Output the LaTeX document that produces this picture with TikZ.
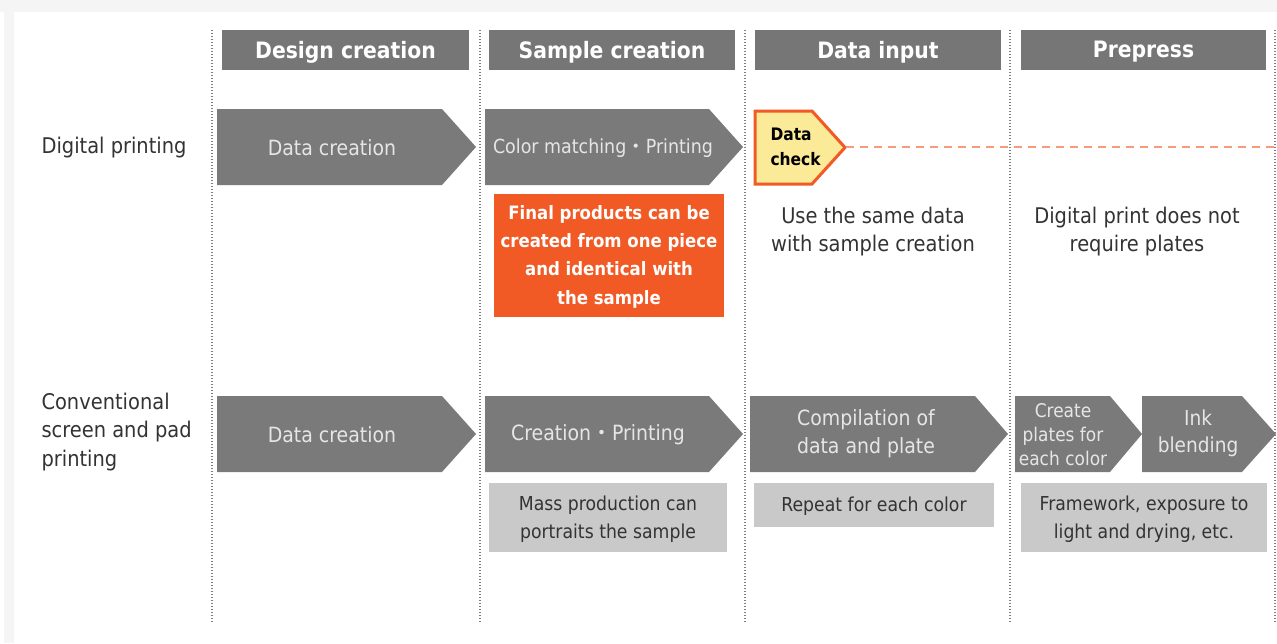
\documentclass[tikz,border=0pt]{standalone}
\usepackage{fontspec}
\setmainfont{DejaVu Sans}[FakeStretch=0.9]
\newfontfamily\cjk{Noto Sans CJK JP}
\definecolor{edgegray}{HTML}{F5F5F5}
\definecolor{stepgray}{HTML}{7A7A7A}
\definecolor{headgray}{HTML}{767676}
\definecolor{notegray}{HTML}{C9C9C9}
\definecolor{steptext}{HTML}{E6E6E6}
\definecolor{inktext}{HTML}{333333}
\definecolor{hotorange}{HTML}{F15A24}
\definecolor{checkfill}{HTML}{FBEA98}
\definecolor{dashorange}{HTML}{F49B7C}
\definecolor{divgray}{HTML}{7E7E7E}
% chevron: x-left, x where the point starts, x of the tip, y-top, y-bottom, style
\newcommand\chevron[6]{%
  \path[#6] (#1,#4) -- (#2,#4) -- (#3,{(#4+#5)/2}) -- (#2,#5) -- (#1,#5) -- cycle;}
\tikzset{
  divider/.style={draw=divgray, line width=1.3pt, dash pattern=on 1.3pt off 1.7pt},
  headbox/.style={fill=headgray},
  headtext/.style={text=white, font=\fontsize{22.6}{24}\bfseries\selectfont},
  stepshape/.style={fill=stepgray},
  steptxt/.style={text=steptext, align=center, font=\fontsize{21}{28}\selectfont},
  rowlabel/.style={text=inktext, align=left, anchor=west, font=\fontsize{21.6}{28.5}\selectfont},
  notetxt/.style={text=inktext, align=center, font=\fontsize{21.6}{28}\selectfont},
  greynote/.style={fill=notegray},
  greytxt/.style={text=inktext, align=center, font=\fontsize{19.2}{28}\selectfont},
  hotnote/.style={fill=hotorange},
  hottxt/.style={text=white, align=center, font=\fontsize{18.4}{28.3}\bfseries\selectfont},
  checkshape/.style={fill=checkfill, draw=hotorange, line width=3pt, line join=miter},
  checktxt/.style={text=black, align=left, anchor=west, font=\fontsize{17.2}{25}\bfseries\selectfont},
  skipline/.style={draw=dashorange, line width=1.8pt, dash pattern=on 8pt off 6pt},
}
\begin{document}
\begin{tikzpicture}[x=1pt,y=-1pt]
\useasboundingbox (0,0) rectangle (1277,643);
\fill[white] (0,0) rectangle (1277,643);
\fill[edgegray] (0,0) rectangle (1277,12);
\fill[edgegray] (4,12) rectangle (14,643);

% column dividers
\foreach \x in {212,480,745,1010,1275}
  \draw[divider] (\x,30) -- (\x,622);

% column headers
\fill[headbox] (222,30) rectangle (469,70);
\fill[headbox] (489,30) rectangle (735,70);
\fill[headbox] (755,30) rectangle (1001,70);
\fill[headbox] (1021,30) rectangle (1266,70);
\node[headtext] (hdesign) at (345.5,52) {Design creation};
\node[headtext] (hsample) at (612,52) {Sample creation};
\node[headtext] (hdata) at (878,52) {Data input};
\node[headtext] (hprepress) at (1143.5,52) {Prepress};

% row labels
\node[rowlabel] (digital) at (38,148) {Digital printing};
\node[rowlabel] (conventional) at (38,432) {Conventional\\screen and pad\\printing};

% digital printing row
\chevron{217}{442}{476}{109}{185}{stepshape}
\node[steptxt] (ddesign) at (332,148) {Data creation};
\chevron{485}{709}{743}{109}{185}{stepshape}
\node[steptxt, font=\fontsize{19.4}{28}\selectfont] (dsample) at (603,148)
  {Color matching{\cjk ・}Printing};
\chevron{755}{812}{845}{111}{184}{checkshape}
\node[checktxt] (datacheck) at (767,147) {Data\\check};
\coordinate (checktip) at (846,147);
\coordinate (skipend) at (1277,147);
\draw[skipline] (checktip) -- (skipend);

\fill[hotnote] (494,194) rectangle (724,317);
\node[hottxt] (onepiece) at (609,256.5)
  {Final products can be\\created from one piece\\and identical with\\the sample};
\node[notetxt] (samedata) at (873,231.5) {Use the same data\\with sample creation};
\node[notetxt] (noplates) at (1137,231.5) {Digital print does not\\require plates};

% conventional row
\chevron{217}{442}{476}{396}{472}{stepshape}
\node[steptxt] (cdesign) at (332,435) {Data creation};
\chevron{485}{709}{743}{396}{472}{stepshape}
\node[steptxt] (csample) at (598,435) {Creation{\cjk ・}Printing};
\chevron{750}{975}{1008}{396}{472}{stepshape}
\node[steptxt] (cdata) at (866,434) {Compilation of\\data and plate};
\chevron{1015}{1110}{1142}{396}{472}{stepshape}
\node[steptxt, font=\fontsize{18.9}{24}\selectfont] (cplates) at (1063,435)
  {Create\\plates for\\each color};
\chevron{1142}{1242}{1276}{396}{472}{stepshape}
\node[steptxt, font=\fontsize{20.6}{27}\selectfont] (cink) at (1198,433)
  {Ink\\blending};

\fill[greynote] (489,483) rectangle (727,552);
\node[greytxt] (massprod) at (608,519.5) {Mass production can\\portraits the sample};
\fill[greynote] (754,483) rectangle (994,527);
\node[greytxt] (repeat) at (874,506) {Repeat for each color};
\fill[greynote] (1021,483) rectangle (1267,552);
\node[greytxt] (framework) at (1144,519.5) {Framework, exposure to\\light and drying, etc.};
\end{tikzpicture}
\end{document}
